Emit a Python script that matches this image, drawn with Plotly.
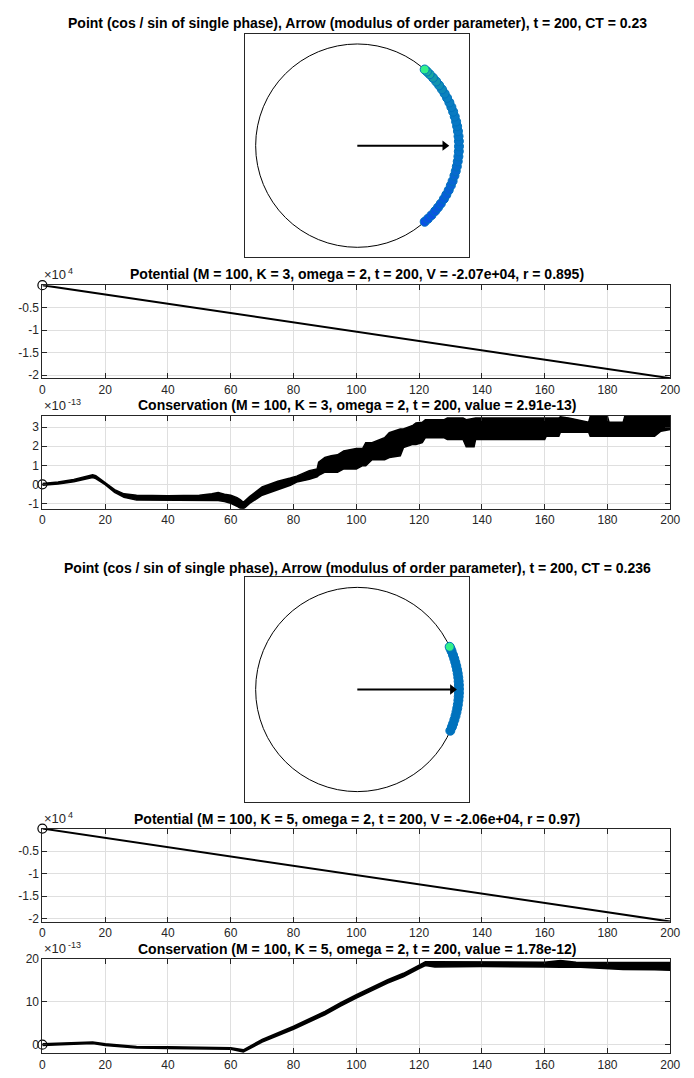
import numpy as np
import plotly.graph_objects as go

# page is W x H; the browser body has an 8px margin, so the figure is offset by 8px
PAGE_W, PAGE_H = 694, 1078
OFF = 8
W, H = PAGE_W - OFF, PAGE_H - OFF

# ---------------- data ----------------
titles = [
    "Point (cos / sin of single phase), Arrow (modulus of order parameter), t = 200, CT = 0.23",
    "Potential (M = 100, K = 3, omega = 2, t = 200, V = -2.07e+04, r = 0.895)",
    "Conservation (M = 100, K = 3, omega = 2, t = 200, value = 2.91e-13)",
    "Point (cos / sin of single phase), Arrow (modulus of order parameter), t = 200, CT = 0.236",
    "Potential (M = 100, K = 5, omega = 2, t = 200, V = -2.06e+04, r = 0.97)",
    "Conservation (M = 100, K = 5, omega = 2, t = 200, value = 1.78e-12)",
]
exponents = ["4", "-13", "4", "-13"]

# phases (degrees) of oscillators at t = 200
arc1_phase_deg = [-48.5, -46.0, -43.2, -40.1, -37.5, -34.8, -31.6, -28.9, -26.0, -23.1,
                  -20.4, -17.2, -14.5, -11.8, -8.9, -6.1, -3.2, -0.4, 2.5, 5.3, 8.2,
                  11.0, 13.7, 16.6, 19.5, 22.3, 25.1, 28.0, 30.8, 33.6, 36.4, 39.1,
                  41.9, 44.6, 46.8]
single1_phase_deg = 48.5
order1_r = 0.895

arc2_phase_deg = [-23.8, -21.5, -19.6, -17.3, -15.0, -12.8, -10.6, -8.5, -6.1, -4.0,
                  -1.9, 0.3, 2.5, 4.6, 6.8, 9.0, 11.1, 13.3, 15.5, 17.6, 19.7, 21.9, 23.5]
single2_phase_deg = 24.7
order2_r = 0.97

# potential (x 1e4)
pot_t = [0, 50, 100, 150, 200]
pot1_V = [0, -0.5175, -1.035, -1.5525, -2.07]
pot2_V = [0, -0.515, -1.03, -1.545, -2.06]

# conservation 1 (x 1e-13): lower / upper envelope of the noisy trace
cons1_t = [0, 5, 10, 14, 16, 17, 20, 23, 26, 30, 40, 50, 54, 56, 58, 60, 62, 63, 64, 66,
           70, 75, 79, 81, 85, 87.5, 88, 90, 92, 94, 96, 100, 102, 103, 105, 109, 110.5,
           114, 115, 118, 119, 121, 122, 128, 129, 134, 135, 137.5, 138, 160, 160.5,
           164.5, 165, 168, 174, 174.5, 180, 180.5, 185, 185.5, 195, 197, 200]
cons1_lo = [-0.05, 0.02, 0.14, 0.30, 0.36, 0.30, -0.02, -0.42, -0.68, -0.83, -0.83, -0.85,
            -0.85, -0.85, -0.90, -1.00, -1.15, -1.26, -1.30, -1.00, -0.57, -0.26, -0.05,
            0.12, 0.26, 0.40, 0.47, 0.64, 0.64, 0.64, 0.81, 0.81, 0.98, 0.98, 1.29, 1.29,
            1.41, 1.50, 1.93, 2.10, 2.10, 2.19, 2.45, 2.45, 2.36, 2.36, 1.98, 1.98, 2.36,
            2.36, 2.53, 2.53, 2.74, 2.74, 2.74, 2.53, 2.53, 2.53, 2.53, 2.53, 2.53, 2.79,
            2.88]
cons1_hi = [0.05, 0.12, 0.26, 0.44, 0.50, 0.45, 0.10, -0.28, -0.50, -0.57, -0.60, -0.58,
            -0.50, -0.43, -0.52, -0.57, -0.70, -0.80, -0.95, -0.65, -0.14, 0.16, 0.33,
            0.43, 0.72, 0.80, 1.16, 1.41, 1.50, 1.55, 1.76, 1.88, 1.88, 2.19, 2.19, 2.45,
            2.71, 2.91, 2.91, 3.10, 3.22, 3.26, 3.40, 3.40, 3.48, 3.48, 3.40, 3.48, 3.48,
            3.48, 3.48, 3.48, 3.55, 3.48, 3.26, 3.57, 3.57, 3.26, 3.26, 3.57, 3.57, 3.57,
            3.57]

# conservation 2 (x 1e-13)
cons2_t = [0, 10, 16, 20, 30, 40, 50, 60, 64, 70, 80, 90, 95, 100, 110, 115, 120, 122,
           125, 140, 160, 165, 170, 180, 185, 195, 200]
cons2_lo = [-0.2, 0.1, 0.25, -0.2, -0.8, -0.9, -1.0, -1.1, -1.7, 0.6, 3.6, 7.0, 9.0, 10.9,
            14.4, 15.9, 17.8, 18.5, 18.2, 18.3, 18.2, 18.1, 18.2, 17.9, 17.6, 17.5, 17.4]
cons2_hi = [0.2, 0.5, 0.65, 0.2, -0.4, -0.5, -0.6, -0.7, -1.2, 1.2, 4.3, 7.8, 9.8, 11.7,
            15.2, 16.7, 18.6, 19.4, 19.4, 19.3, 19.3, 19.7, 19.3, 19.2, 19.2, 19.1, 19.2]

x_ticks = [0, 20, 40, 60, 80, 100, 120, 140, 160, 180, 200]

# ---------------- layout helpers (arguments in page pixels) ----------------
def dx(a, b):
    return [(a - OFF) / W, (b - OFF) / W]

def dy(top, bottom):
    return [1 - (bottom - OFF) / H, 1 - (top - OFF) / H]

def px(p):
    return (p - OFF) / W

def py(p):
    return 1 - (p - OFF) / H

FONT = "Liberation Sans"
AX = "#262626"
GRID = "#dfdfdf"
BLUE = "#0072BD"

fig = go.Figure()

# ---------------- circle panels ----------------
def circle_panel(n, phases, single, r, colored):
    xa = "x" if n == 1 else f"x{n}"
    ya = "y" if n == 1 else f"y{n}"
    ph = np.radians(np.array(phases))
    if colored:
        mk = dict(size=9, color=list(phases), cmin=min(phases), cmax=single,
                  colorscale=[[0, "#0a50e6"], [0.45, "#0670c8"], [0.8, "#0a7fc0"],
                              [0.93, "#1598a8"], [1, "#1cb896"]],
                  line=dict(color=BLUE, width=1))
    else:
        mk = dict(size=9, color=BLUE, line=dict(color=BLUE, width=1))
    fig.add_trace(go.Scatter(x=np.cos(ph), y=np.sin(ph), mode="markers", marker=mk,
                             xaxis=xa, yaxis=ya, showlegend=False, hoverinfo="skip"))
    s = np.radians(single)
    fig.add_trace(go.Scatter(x=[np.cos(s)], y=[np.sin(s)], mode="markers",
                             marker=dict(size=9, color="#33f08a", line=dict(color=BLUE, width=1)),
                             xaxis=xa, yaxis=ya, showlegend=False, hoverinfo="skip"))
    fig.add_shape(type="circle", xref=xa, yref=ya, x0=-1, y0=-1, x1=1, y1=1,
                  line=dict(color="black", width=1), layer="below")
    # arrow: shaft + head
    head = 0.035
    fig.add_trace(go.Scatter(x=[0, r - head], y=[0, 0], mode="lines",
                             line=dict(color="black", width=2),
                             xaxis=xa, yaxis=ya, showlegend=False, hoverinfo="skip"))
    fig.add_trace(go.Scatter(x=[r - head], y=[0], mode="markers",
                             marker=dict(symbol="triangle-right", size=9, color="black",
                                         line=dict(width=0)),
                             xaxis=xa, yaxis=ya, showlegend=False, hoverinfo="skip"))

circle_panel(1, arc1_phase_deg, single1_phase_deg, order1_r, True)
circle_panel(4, arc2_phase_deg, single2_phase_deg, order2_r, False)

# ---------------- potential panels ----------------
for n, V in ((2, pot1_V), (5, pot2_V)):
    fig.add_trace(go.Scatter(x=pot_t, y=V, mode="lines", line=dict(color="black", width=2),
                             xaxis=f"x{n}", yaxis=f"y{n}", showlegend=False, hoverinfo="skip",
                             cliponaxis=False))
    fig.add_trace(go.Scatter(x=[pot_t[0]], y=[V[0]], mode="markers",
                             marker=dict(symbol="circle-open", size=9, color="black",
                                         line=dict(width=1.2)),
                             xaxis=f"x{n}", yaxis=f"y{n}", showlegend=False, hoverinfo="skip",
                             cliponaxis=False))

# ---------------- conservation panels ----------------
for n, t, lo, hi in ((3, cons1_t, cons1_lo, cons1_hi), (6, cons2_t, cons2_lo, cons2_hi)):
    fig.add_trace(go.Scatter(x=t, y=hi, mode="lines", line=dict(color="black", width=1.5),
                             xaxis=f"x{n}", yaxis=f"y{n}", showlegend=False, hoverinfo="skip"))
    fig.add_trace(go.Scatter(x=t, y=lo, mode="lines", line=dict(color="black", width=1.5),
                             fill="tonexty", fillcolor="black",
                             xaxis=f"x{n}", yaxis=f"y{n}", showlegend=False, hoverinfo="skip"))
    fig.add_trace(go.Scatter(x=[0], y=[0], mode="markers",
                             marker=dict(symbol="circle-open", size=9, color="black",
                                         line=dict(width=1.2)),
                             xaxis=f"x{n}", yaxis=f"y{n}", showlegend=False, hoverinfo="skip",
                             cliponaxis=False))

# ---------------- axes ----------------
box = dict(showline=True, linecolor=AX, linewidth=1, zeroline=False)
tickfont = dict(family=FONT, size=12, color=AX)

def circ_axes(n, xdom, ydom):
    k = "" if n == 1 else str(n)
    fig.layout[f"xaxis{k}"] = dict(domain=xdom, range=[-1.1, 1.1], showgrid=False, mirror=True,
                                   showticklabels=False, ticks="", anchor=f"y{k}", **box)
    fig.layout[f"yaxis{k}"] = dict(domain=ydom, range=[-1.1, 1.1], showgrid=False, mirror=True,
                                   showticklabels=False, ticks="", anchor=f"x{k}", **box)

def line_axes(n, ydom, yrange, yticks, ytext):
    fig.layout[f"xaxis{n}"] = dict(domain=dx(40, 680), range=[0, 200], tickvals=x_ticks,
                                   ticks="inside", ticklen=5, tickcolor=AX, showgrid=True,
                                   gridcolor=GRID, gridwidth=1, tickfont=tickfont,
                                   anchor=f"y{n}", mirror="allticks", **box)
    fig.layout[f"yaxis{n}"] = dict(domain=ydom, range=yrange, tickvals=yticks, ticktext=ytext,
                                   ticks="inside", ticklen=5, tickcolor=AX, showgrid=True,
                                   gridcolor=GRID, gridwidth=1, tickfont=tickfont,
                                   anchor=f"x{n}", mirror="allticks", **box)

circ_axes(1, dx(247, 475), dy(27, 253))
circ_axes(4, dx(247, 475), dy(576, 803))
line_axes(2, dy(281, 375), [-2.07, 0], [-2, -1.5, -1, -0.5], ["-2", "-1.5", "-1", "-0.5"])
line_axes(3, dy(413, 507), [-1.29, 3.6], [-1, 0, 1, 2, 3], ["-1", "0", "1", "2", "3"])
line_axes(5, dy(830, 924), [-2.06, 0], [-2, -1.5, -1, -0.5], ["-2", "-1.5", "-1", "-0.5"])
line_axes(6, dy(962, 1057), [-2, 20], [0, 10, 20], ["0", "10", "20"])

# ---------------- titles & exponent labels ----------------
for txt, yc in zip(titles, [16, 270, 402, 567, 820, 952]):
    fig.add_annotation(text=f"<b>{txt}</b>", x=px(361), y=py(yc), xref="paper", yref="paper",
                       xanchor="center", yanchor="middle", showarrow=False,
                       font=dict(family=FONT, size=14, color="black"))

for exp, yb in zip(exponents, (279, 411, 828, 960)):
    fig.add_annotation(text="×10", x=px(41), y=py(yb), xref="paper", yref="paper",
                       xanchor="left", yanchor="bottom", showarrow=False, borderpad=0,
                       font=dict(family=FONT, size=13, color=AX))
    fig.add_annotation(text=exp, x=px(65), y=py(yb - 6), xref="paper", yref="paper",
                       xanchor="left", yanchor="bottom", showarrow=False, borderpad=0,
                       font=dict(family=FONT, size=9, color=AX))

fig.update_layout(width=W, height=H, margin=dict(l=0, r=0, t=0, b=0),
                  paper_bgcolor="white", plot_bgcolor="white")

fig.write_html("out.html")
